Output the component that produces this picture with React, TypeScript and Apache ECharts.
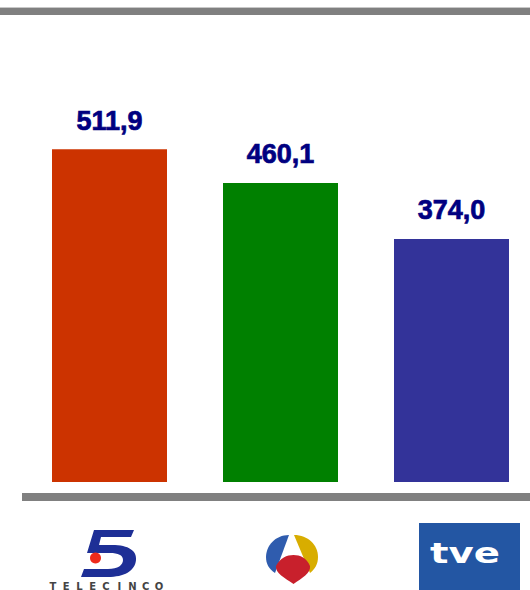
import React, { useEffect, useRef } from "react";
import * as echarts from "echarts";

const categories = ["Telecinco", "Antena 3", "TVE"];
const values = [511.9, 460.1, 374.0];
const barColors = ["#CC3300", "#008000", "#333399"];
const telecincoWord = "TELECINCO";

const FIVE_D =
  "M 94 530 L 134 530 L 131 537 L 101 537 L 99 545 L 112 545 C 129 545 137 551 136 560 C 135 571 124 577 108 577 L 81 577 L 84 569 L 108 569 C 118 569 123 565 123 560 C 123 555 118 553 110 553 L 87 553 Z";
const A3_BLUE_D =
  "M 289 535 C 275 535 266 546 266 557 C 266 564 269 569 275 573 L 289 535 Z";
const A3_YELLOW_D =
  "M 294 535 C 308 535 318 545 318 557 C 318 564 315 569 310 573 L 294 535 Z";
const A3_RED_D =
  "M 276 566 C 280 558 287 555 293.5 555 C 300 555 307 558 310 566 C 311 573 302 578 293.5 584 C 285 578 275 573 276 566 Z";

echarts.graphic.registerShape("five", echarts.graphic.extendPath(FIVE_D, {}) as any);
echarts.graphic.registerShape("a3blue", echarts.graphic.extendPath(A3_BLUE_D, {}) as any);
echarts.graphic.registerShape("a3yellow", echarts.graphic.extendPath(A3_YELLOW_D, {}) as any);
echarts.graphic.registerShape("a3red", echarts.graphic.extendPath(A3_RED_D, {}) as any);

export default function App() {
  const ref = useRef<HTMLDivElement>(null);

  useEffect(() => {
    if (!ref.current) return;
    const chart = echarts.init(ref.current, undefined, { renderer: "svg" });

    const letters = telecincoWord.split("").map((ch, i) => ({
      type: "text",
      x: 53 + i * 13.25,
      y: 586,
      style: {
        text: ch,
        x: 0,
        y: 0,
        align: "center",
        verticalAlign: "middle",
        fill: "#444444",
        font: "bold 10px 'DejaVu Sans'",
      },
    }));

    chart.setOption({
      animation: false,
      grid: { left: 24, right: 0, top: 27, bottom: 108 },
      xAxis: {
        type: "category",
        data: categories,
        axisLine: { show: false },
        axisTick: { show: false },
        axisLabel: { show: false },
        splitLine: { show: false },
      },
      yAxis: {
        type: "value",
        min: 0,
        max: 700,
        show: false,
        splitLine: { show: false },
      },
      series: [
        {
          type: "bar",
          barWidth: 115,
          data: values.map((v, i) => ({ value: v, itemStyle: { color: barColors[i] } })),
          label: {
            show: true,
            position: "top",
            distance: 15,
            formatter: (p: any) => Number(p.value).toFixed(1).replace(".", ","),
            color: "#000080",
            textBorderColor: "#000080",
            textBorderWidth: 0.7,
            fontFamily: "'Liberation Sans', Arial, sans-serif",
            fontWeight: "bold",
            fontSize: 27,
          },
        },
      ],
      graphic: [
        { type: "rect", shape: { x: 0, y: 7, width: 537, height: 1 }, style: { fill: "#c8c8c8" } },
        { type: "rect", shape: { x: 0, y: 8, width: 537, height: 7 }, style: { fill: "#808080" } },
        { type: "rect", shape: { x: 22, y: 493, width: 515, height: 8 }, style: { fill: "#808080" } },
        // Telecinco logo
        { type: "five", x: 0, y: 0, style: { fill: "#1e2f96" } },
        { type: "circle", shape: { cx: 95.5, cy: 558, r: 5.5 }, style: { fill: "#ee2a1b" } },
        ...letters,
        // Antena 3 logo
        { type: "a3blue", x: 0, y: 0, style: { fill: "#2f5cae" } },
        { type: "a3yellow", x: 0, y: 0, style: { fill: "#d8ad00" } },
        { type: "a3red", x: 0, y: 0, style: { fill: "#c8202c" } },
        // TVE logo
        { type: "rect", shape: { x: 419, y: 523, width: 101, height: 67 }, style: { fill: "#2356a3" } },
        {
          type: "text",
          x: 465,
          y: 553,
          scaleX: 1.38,
          style: {
            text: "tve",
            x: 0,
            y: 0,
            align: "center",
            verticalAlign: "middle",
            fill: "#ffffff",
            font: "bold 28px 'DejaVu Sans'",
          },
        },
      ],
    });

    return () => chart.dispose();
  }, []);

  return (
    <div style={{ position: "absolute", left: 0, top: 0, width: 530, height: 590, overflow: "hidden" }}>
      <div ref={ref} style={{ width: 537, height: 590 }} />
    </div>
  );
}
